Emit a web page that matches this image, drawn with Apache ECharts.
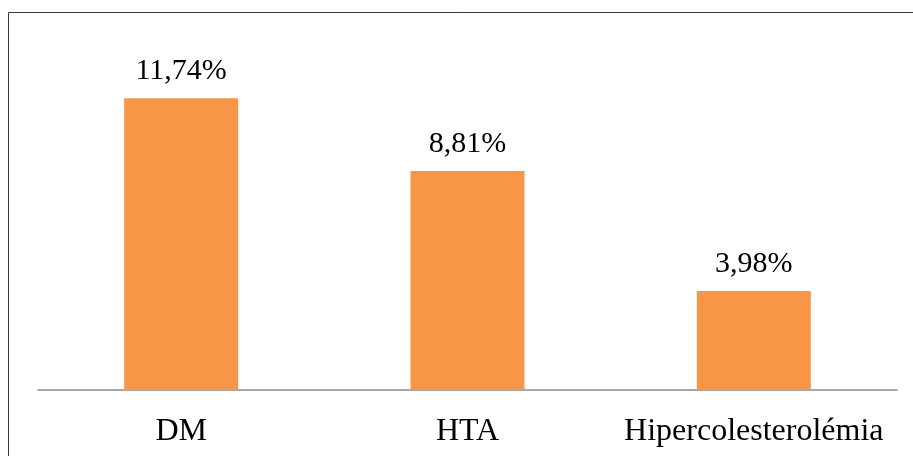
<!DOCTYPE html>
<html>
<head>
<meta charset="utf-8">
<script src="https://cdn.jsdelivr.net/npm/echarts@6/dist/echarts.min.js"></script>
<style>
  html, body { margin: 0; padding: 0; background: #fff; }
  #chart { width: 913px; height: 456px; }
</style>
</head>
<body>
<div id="chart"></div>
<script>
// Prevalence of cardiovascular risk factors
const categories = ['DM', 'HTA', 'Hipercolesterolémia'];
const values = [11.74, 8.81, 3.98];

const fmt = v => v.toFixed(2).replace('.', ',') + '%';

const chart = echarts.init(document.getElementById('chart'));
chart.setOption({
  animation: false,
  backgroundColor: '#ffffff',
  graphic: [{
    type: 'rect',
    shape: { x: 8.5, y: 12.5, width: 1000, height: 1000 },
    style: { fill: 'none', stroke: '#3a3a3a', lineWidth: 1 },
    silent: true
  }],
  grid: { left: 38, right: 16, top: 42, bottom: 66 },
  xAxis: {
    type: 'category',
    data: categories,
    axisLine: { lineStyle: { color: '#8c8c8c', width: 1.5 } },
    axisTick: { show: false },
    axisLabel: {
      interval: 0,
      hideOverlap: false,
      color: '#000',
      fontFamily: 'Liberation Serif',
      fontSize: 32,
      margin: 26
    }
  },
  yAxis: {
    type: 'value',
    min: 0,
    max: 14,
    show: false,
    splitLine: { show: false }
  },
  series: [{
    type: 'bar',
    data: values,
    barWidth: 114,
    itemStyle: { color: '#F79646' },
    label: {
      show: true,
      position: 'top',
      distance: 12,
      color: '#000',
      fontFamily: 'Liberation Serif',
      fontSize: 30,
      formatter: p => fmt(p.value)
    }
  }]
});
</script>
</body>
</html>
